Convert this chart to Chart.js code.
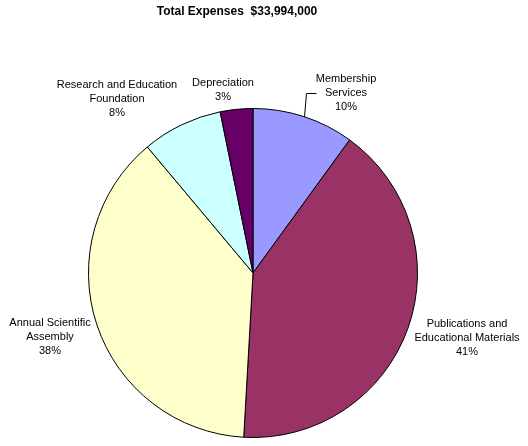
<!DOCTYPE html>
<html>
<head>
<meta charset="utf-8">
<script src="https://cdn.jsdelivr.net/npm/chart.js@4.4.0/dist/chart.umd.min.js"></script>
<style>
  html, body { margin: 0; padding: 0; background: #fff; }
  #wrap { width: 528px; height: 446px; }
</style>
</head>
<body>
<div id="wrap"><canvas id="chart" width="528" height="446"></canvas></div>
<script>
// Expense categories, clockwise from 12 o'clock
const categories = [
    ['Membership', 'Services'],
    ['Publications and', 'Educational Materials'],
    ['Annual Scientific', 'Assembly'],
    ['Research and Education', 'Foundation'],
    ['Depreciation']
];
// Amounts in thousands of dollars (sum = 33,994)
const expenses = [3399, 13903, 12918, 2686, 1088];
const sliceColors = ['#9999FF', '#993366', '#FFFFCC', '#CCFFFF', '#660066'];

const FONT = '"Liberation Sans", Arial, sans-serif';

// Label placement relative to the pie centre (dx, dy)
const labelOffsets = [
    { dx: 93, dy: -194 },
    { dx: 214, dy: 51 },
    { dx: -203, dy: 50 },
    { dx: -136, dy: -188 },
    { dx: -30, dy: -190 }
];

const pieLabels = {
    id: 'pieLabels',
    afterDraw(chart) {
        const ctx = chart.ctx;
        const arcs = chart.getDatasetMeta(0).data;
        const total = expenses.reduce((a, b) => a + b, 0);
        const cx = arcs[0].x, cy = arcs[0].y, r = arcs[0].outerRadius;

        ctx.save();
        ctx.fillStyle = '#000';
        ctx.textAlign = 'center';
        ctx.textBaseline = 'middle';

        // title
        ctx.font = 'bold 12px ' + FONT;
        ctx.fillText('Total Expenses  $' + (total * 1000).toLocaleString('en-US'), 237, 12);

        ctx.font = '11px ' + FONT;
        categories.forEach((lines, i) => {
            const pct = Math.round(expenses[i] / total * 100) + '%';
            const all = lines.concat([pct]);
            const off = labelOffsets[i];
            const x = cx + off.dx;
            const y0 = cy + off.dy;
            all.forEach((t, j) => ctx.fillText(t, x, y0 + j * 14));
        });

        // leader line for Membership Services
        const a = arcs[0];
        const mid = (a.startAngle + a.endAngle) / 2;
        const sx = cx + Math.cos(mid) * r;
        const sy = cy + Math.sin(mid) * r;
        ctx.strokeStyle = '#000';
        ctx.lineWidth = 1;
        ctx.beginPath();
        ctx.moveTo(Math.round(sx) + 0.5, Math.round(sy));
        ctx.lineTo(Math.round(sx) + 2.5, cy - 180 + 0.5);
        ctx.lineTo(Math.round(sx) + 12.5, cy - 180 + 0.5);
        ctx.stroke();
        ctx.restore();
    }
};

new Chart(document.getElementById('chart'), {
    type: 'pie',
    data: {
        labels: categories.map(c => c.join(' ')),
        datasets: [{
            data: expenses,
            backgroundColor: sliceColors,
            borderColor: '#000',
            borderWidth: 1
        }]
    },
    options: {
        responsive: false,
        animation: false,
        layout: { padding: { left: 88, right: 110, top: 108, bottom: 8 } },
        plugins: {
            legend: { display: false },
            tooltip: { enabled: false }
        }
    },
    plugins: [pieLabels]
});
</script>
</body>
</html>
